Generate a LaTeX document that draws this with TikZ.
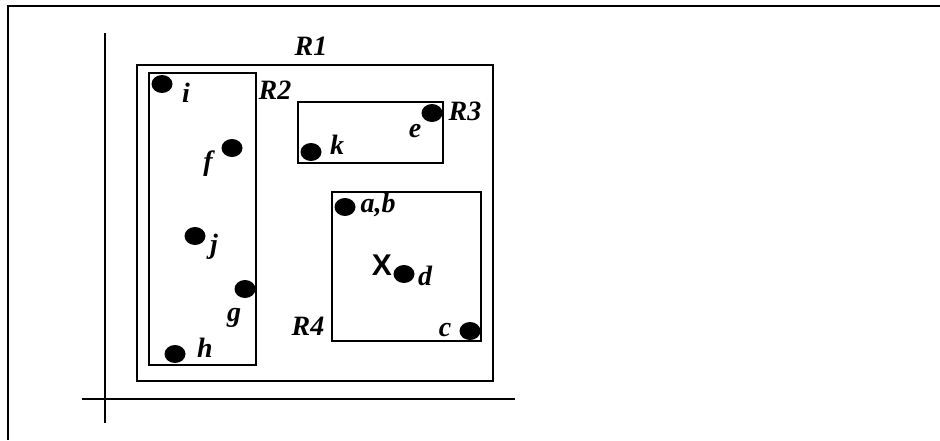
\documentclass[tikz,border=0pt]{standalone}
\usepackage{fontspec}
\setmainfont{Liberation Serif}
\newfontfamily\labelsans{Liberation Sans}
\usetikzlibrary{shapes.geometric}
\tikzset{
  region/.style={draw, line width=2.4pt, rectangle, inner sep=0pt},
  pt/.style={ellipse, fill=black, draw=none, inner sep=0pt, minimum width=21pt, minimum height=18pt},
  lbl/.style={inner sep=0pt, font=\fontsize{28}{30}\selectfont\bfseries\itshape},
  axis/.style={line width=2.6pt},
}
\begin{document}
\begin{tikzpicture}[x=1pt, y=-1pt]
\useasboundingbox (0,0) rectangle (940,440);
% page frame (top and left edges)
\coordinate (ftr) at (940,6);
\coordinate (ftl) at (8,6);
\coordinate (fbl) at (8,440);
\draw[line width=2.4pt] (ftr) -- (ftl) -- (fbl);

% axes
\coordinate (ytop) at (105,33);
\coordinate (ybot) at (105,423);
\coordinate (xleft) at (82,399);
\coordinate (xright) at (515,399);
\draw[axis] (ytop) -- (ybot);
\draw[axis] (xleft) -- (xright);

% regions
\node[region, minimum width=356pt, minimum height=316pt] (R1) at (315,223) {};
\node[region, minimum width=107pt, minimum height=292pt] (R2) at (202.5,219) {};
\node[region, minimum width=145pt, minimum height=61pt] (R3) at (370.5,132.5) {};
\node[region, minimum width=149pt, minimum height=149pt] (R4) at (406.5,266.5) {};

% region labels
\node[lbl] (tR1) at (311,46) {R1};
\node[lbl] (tR2) at (275,90) {R2};
\node[lbl] (tR3) at (465,111) {R3};
\node[lbl] (tR4) at (308,326) {R4};

% points
\node[pt] (pi) at (162,84) {};
\node[pt] (pf) at (232,148) {};
\node[pt] (pj) at (195,236) {};
\node[pt] (pg) at (245,289) {};
\node[pt] (ph) at (175,354) {};
\node[pt] (pk) at (311,152) {};
\node[pt] (pe) at (432,113) {};
\node[pt] (pab) at (345,207) {};
\node[pt] (pd) at (404,274) {};
\node[pt] (pc) at (470,331) {};

% point labels
\node[lbl] (ti) at (186,93) {i};
\node[lbl] (tf) at (208,164) {f};
\node[lbl] (tj) at (214,247) {j};
\node[lbl] (tg) at (234,318) {g};
\node[lbl] (th) at (205,348) {h};
\node[lbl] (tk) at (337,145) {k};
\node[lbl] (te) at (415,131) {e};
\node[lbl] (tab) at (378,205) {a,b};
\node[lbl] (td) at (425,276) {d};
\node[lbl] (tc) at (445,330) {c};

% query point
\node[inner sep=0pt] (qx) at (382,265) {\labelsans\bfseries\fontsize{30}{32}\selectfont X};
\end{tikzpicture}
\end{document}
